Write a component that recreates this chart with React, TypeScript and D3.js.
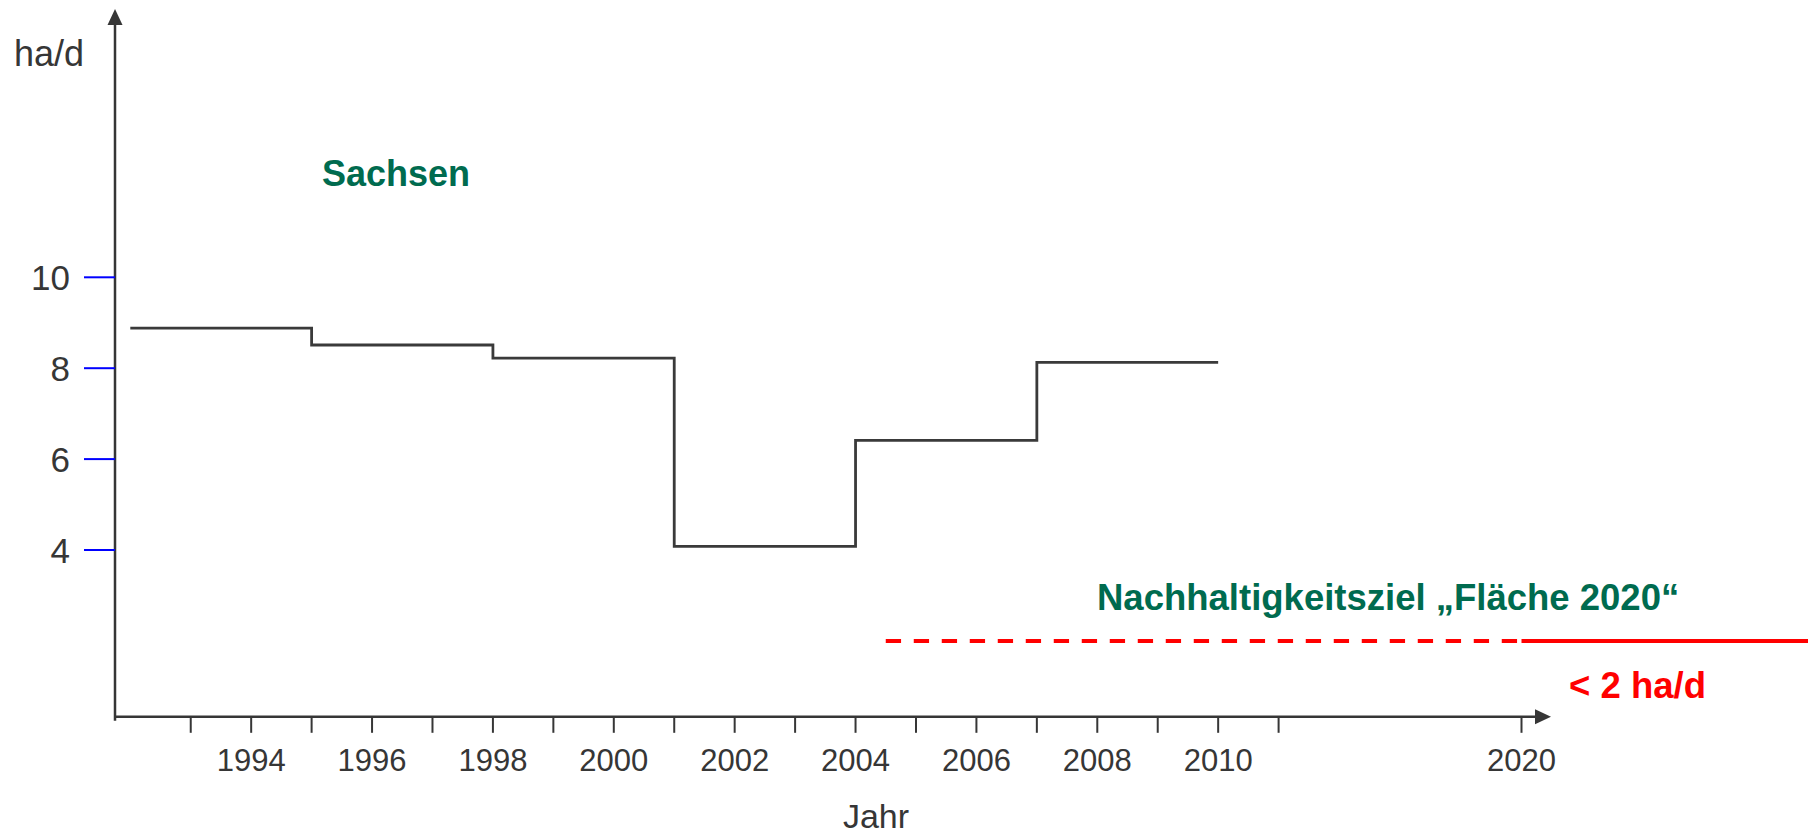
import React, { useEffect, useRef } from 'react';
import * as d3 from 'd3';

// step data (value holds from year[i] to year[i+1])
const stepYears = [1992, 1995, 1998, 2001, 2004, 2007, 2010];
const stepValues = [8.88, 8.51, 8.22, 4.08, 6.41, 8.13];

const yTicks = [4, 6, 8, 10];
const xTicks = [1993, 1994, 1995, 1996, 1997, 1998, 1999, 2000, 2001, 2002, 2003,
    2004, 2005, 2006, 2007, 2008, 2009, 2010, 2011, 2020];
const xTickLabels = [1994, 1996, 1998, 2000, 2002, 2004, 2006, 2008, 2010, 2020];

// sustainability target
const targetValue = 2;
const targetDashFrom = 2004.5;
const targetYear = 2020;
const targetTo = 2030.7;

const FONT = '"Liberation Sans", Arial, sans-serif';
const GREEN = '#006b4f';
const INK = '#363636';

function StepChart() {
    const svgRef = useRef(null);
    const width = 1814;
    const height = 837;

    useEffect(() => {
        const svg = d3.select(svgRef.current);
        svg.selectAll('*').remove();

        // broken x axis: 1992..2011 evenly, then compressed up to 2020
        const x = d3.scaleLinear()
            .domain([1992, 2011, 2020, 2030.7])
            .range([130.3, 1278.6, 1521.5, 1808]);
        const y = d3.scaleLinear().domain([0, 10]).range([731.8, 277.3]);

        const axisX = 115;
        const axisY = y(0.33);

        // y axis with arrow
        svg.append('line')
            .attr('x1', axisX).attr('x2', axisX)
            .attr('y1', axisY + 4).attr('y2', 22)
            .attr('stroke', INK).attr('stroke-width', 2.5);
        svg.append('path')
            .attr('d', `M${axisX - 7.5},25 L${axisX},9 L${axisX + 7.5},25 Z`)
            .attr('fill', INK);

        // y ticks (blue) and labels
        svg.selectAll('.ytick')
            .data(yTicks)
            .enter()
            .append('line')
            .attr('x1', 84).attr('x2', axisX)
            .attr('y1', (d) => y(d)).attr('y2', (d) => y(d))
            .attr('stroke', '#0000ff').attr('stroke-width', 2);
        svg.selectAll('.ylabel')
            .data(yTicks)
            .enter()
            .append('text')
            .attr('x', 70)
            .attr('y', (d) => y(d))
            .attr('dy', '0.36em')
            .attr('text-anchor', 'end')
            .style('font-family', FONT)
            .style('font-size', '35px')
            .style('fill', INK)
            .text((d) => d);

        svg.append('text')
            .attr('x', 14).attr('y', 66)
            .style('font-family', FONT)
            .style('font-size', '36px')
            .style('fill', INK)
            .text('ha/d');

        // x axis with arrow
        svg.append('line')
            .attr('x1', axisX - 1).attr('x2', 1538)
            .attr('y1', axisY).attr('y2', axisY)
            .attr('stroke', INK).attr('stroke-width', 2.5);
        svg.append('path')
            .attr('d', `M1535,${axisY - 7.5} L1551,${axisY} L1535,${axisY + 7.5} Z`)
            .attr('fill', INK);

        svg.selectAll('.xtick')
            .data(xTicks)
            .enter()
            .append('line')
            .attr('x1', (d) => x(d)).attr('x2', (d) => x(d))
            .attr('y1', axisY).attr('y2', axisY + 16)
            .attr('stroke', INK).attr('stroke-width', 2);
        svg.selectAll('.xlabel')
            .data(xTickLabels)
            .enter()
            .append('text')
            .attr('x', (d) => x(d))
            .attr('y', 771)
            .attr('text-anchor', 'middle')
            .style('font-family', FONT)
            .style('font-size', '31px')
            .style('fill', INK)
            .text((d) => d);

        svg.append('text')
            .attr('x', 876).attr('y', 828)
            .attr('text-anchor', 'middle')
            .style('font-family', FONT)
            .style('font-size', '34px')
            .style('fill', INK)
            .text('Jahr');

        // step line
        const points = stepYears.map((yr, i) => [yr, stepValues[Math.min(i, stepValues.length - 1)]]);
        const line = d3.line()
            .x((d) => x(d[0]))
            .y((d) => y(d[1]))
            .curve(d3.curveStepAfter);
        svg.append('path')
            .attr('d', line(points))
            .attr('fill', 'none')
            .attr('stroke', '#3a3a3a')
            .attr('stroke-width', 2.8);

        // target line: dashed until 2020, solid afterwards
        svg.append('line')
            .attr('x1', x(targetDashFrom)).attr('x2', x(targetYear))
            .attr('y1', y(targetValue)).attr('y2', y(targetValue))
            .attr('stroke', '#ff0000').attr('stroke-width', 4)
            .attr('stroke-dasharray', '15.3 12.7');
        svg.append('line')
            .attr('x1', x(targetYear)).attr('x2', x(targetTo))
            .attr('y1', y(targetValue)).attr('y2', y(targetValue))
            .attr('stroke', '#ff0000').attr('stroke-width', 4);

        // annotations
        svg.append('text')
            .attr('x', 322).attr('y', 186)
            .style('font-family', FONT)
            .style('font-size', '36px')
            .style('font-weight', 'bold')
            .style('fill', GREEN)
            .text('Sachsen');
        svg.append('text')
            .attr('x', 1097).attr('y', 610)
            .style('font-family', FONT)
            .style('font-size', '36.5px')
            .style('font-weight', 'bold')
            .style('fill', GREEN)
            .text('Nachhaltigkeitsziel \u201EFl\u00E4che 2020\u201C');
        svg.append('text')
            .attr('x', 1569).attr('y', 698)
            .style('font-family', FONT)
            .style('font-size', '36.5px')
            .style('font-weight', 'bold')
            .style('fill', '#ff0000')
            .text('< 2 ha/d');
    }, []);

    return (
        <div style={{ position: 'absolute', left: 0, top: 0 }}>
            <svg ref={svgRef} width={width} height={height} style={{ display: 'block', background: '#fff' }}></svg>
        </div>
    );
}

export default function App() {
    return <StepChart />;
}
